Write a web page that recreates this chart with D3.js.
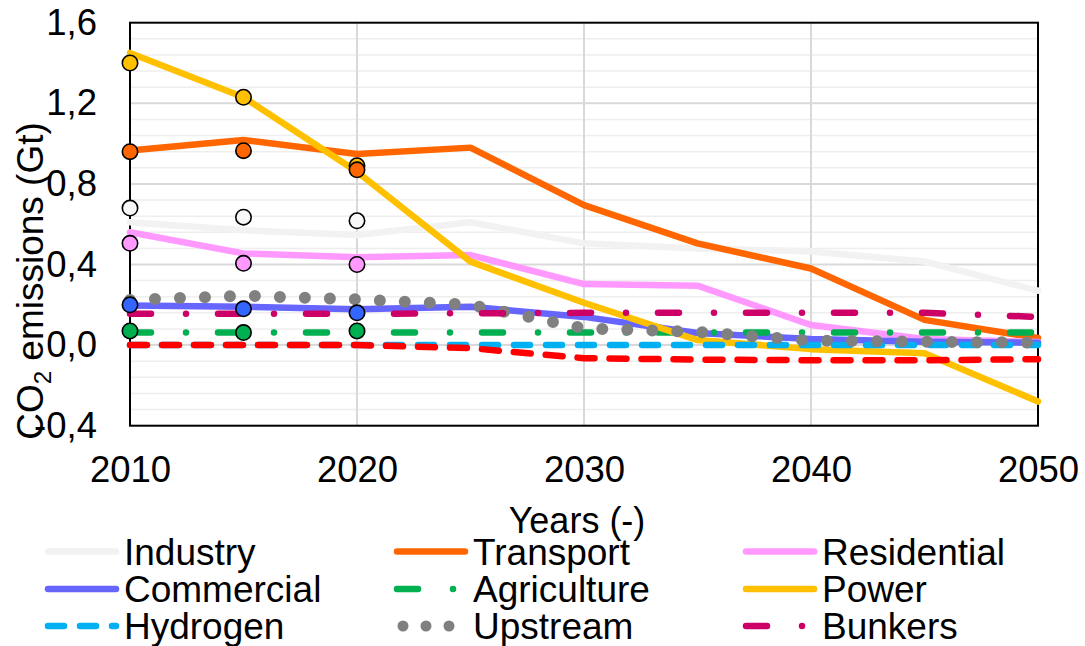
<!DOCTYPE html>
<html>
<head>
<meta charset="utf-8">
<script src="https://cdn.jsdelivr.net/npm/d3@7"></script>
<style>
  body { margin: 0; background: #fff; }
  svg { font-family: "Liberation Sans", Arial, sans-serif; }
</style>
</head>
<body>
<svg id="chart" width="1085" height="646"></svg>
<script>

var years = [2010, 2015, 2020, 2025, 2030, 2035, 2040, 2045, 2050];
var histYears = [2010, 2015, 2020];

// scenario lines (Gt)
var industry    = [0.61, 0.57, 0.546, 0.61, 0.505, 0.48, 0.465, 0.415, 0.27];
var transport   = [0.966, 1.018, 0.948, 0.98, 0.695, 0.505, 0.38, 0.125, 0.035];
var residential = [0.56, 0.455, 0.436, 0.447, 0.303, 0.295, 0.1, 0.03, 0.015];
var commercial  = [0.196, 0.19, 0.178, 0.19, 0.14, 0.06, 0.03, 0.017, 0.012];
var agriculture = [0.063, 0.063, 0.063, 0.063, 0.063, 0.063, 0.063, 0.063, 0.063];
var power       = [1.45, 1.23, 0.86, 0.414, 0.21, 0.025, -0.02, -0.04, -0.28];
var hydrogen    = [0, 0, 0, 0, 0, 0, 0, 0, 0];
var upstream    = [0.224, 0.245, 0.227, 0.2, 0.083, 0.065, 0.022, 0.017, 0.012];
var bunkers     = [0.155, 0.155, 0.155, 0.158, 0.16, 0.16, 0.16, 0.16, 0.14];
var other       = [0, 0, 0, -0.015, -0.065, -0.072, -0.075, -0.075, -0.07];

// historical points
var industryHist    = [0.68, 0.635, 0.617];
var transportHist   = [0.96, 0.965, 0.87];
var residentialHist = [0.505, 0.406, 0.40];
var commercialHist  = [0.2, 0.18, 0.16];
var agricultureHist = [0.07, 0.062, 0.07];
var powerHist       = [1.40, 1.23, 0.89];

var yTicks = [-0.4, 0, 0.4, 0.8, 1.2, 1.6];
var xTicks = [2010, 2020, 2030, 2040, 2050];

var series = [
    {name: "Industry",    values: industry,    color: "#f2f2f2", width: 6.5, dash: null,            legend: true},
    {name: "Transport",   values: transport,   color: "#ff6600", width: 6.5, dash: null,            legend: true},
    {name: "Residential", values: residential, color: "#ff99ff", width: 6.5, dash: null,            legend: true},
    {name: "Commercial",  values: commercial,  color: "#6666ff", width: 6.5, dash: null,            legend: true},
    {name: "Agriculture", values: agriculture, color: "#00b050", width: 6.5, dash: "21,35,0,32",    legend: true},
    {name: "Power",       values: power,       color: "#ffc000", width: 6.5, dash: null,            legend: true},
    {name: "Hydrogen",    values: hydrogen,    color: "#00b0f0", width: 6.5, dash: "16,16",         legend: true},
    {name: "Upstream",    values: upstream,    color: "#808080", width: 12, dash: "0,25",           legend: true},
    {name: "Bunkers",     values: bunkers,     color: "#cc0066", width: 6.5, dash: "21,35,0,32",    legend: true},
    {name: "Other",       values: other,       color: "#ff0000", width: 6.5, dash: "17,15",         legend: false}
];

var points = [
    {values: industryHist,    color: "#f8f8f8"},
    {values: residentialHist, color: "#ff99ff"},
    {values: commercialHist,  color: "#3366ff"},
    {values: agricultureHist, color: "#00b050"},
    {values: powerHist,       color: "#ffc000"},
    {values: transportHist,   color: "#ff6600"}
];

var svg = d3.select("#chart");

var x = d3.scaleLinear().domain([2010, 2050]).range([130, 1038]);
var y = d3.scaleLinear().domain([-0.4, 1.6]).range([425.7, 22.7]);

var fmt = function (d) {
    return (d < 0 ? "-" : "") + Math.abs(d).toFixed(1).replace(".", ",");
};

// minor gridlines
var minor = d3.range(-0.4, 1.6001, 0.08).filter(function (d) {
    return Math.abs(Math.round(d / 0.4) * 0.4 - d) > 0.001;
});
svg.append("g").selectAll("line")
    .data(minor)
    .enter()
    .append("line")
    .attr("x1", x(2010)).attr("x2", x(2050))
    .attr("y1", function (d) { return y(d); })
    .attr("y2", function (d) { return y(d); })
    .attr("stroke", "#eeeeee")
    .attr("stroke-width", 1.5);

// major gridlines
svg.append("g").selectAll("line")
    .data(yTicks.slice(1, 5))
    .enter()
    .append("line")
    .attr("x1", x(2010)).attr("x2", x(2050))
    .attr("y1", function (d) { return y(d); })
    .attr("y2", function (d) { return y(d); })
    .attr("stroke", "#d9d9d9")
    .attr("stroke-width", 2);

svg.append("g").selectAll("line")
    .data([2020, 2030, 2040])
    .enter()
    .append("line")
    .attr("y1", y(1.6)).attr("y2", y(-0.4))
    .attr("x1", function (d) { return x(d); })
    .attr("x2", function (d) { return x(d); })
    .attr("stroke", "#d9d9d9")
    .attr("stroke-width", 2);

// frame
svg.append("rect")
    .attr("x", x(2010)).attr("y", y(1.6))
    .attr("width", x(2050) - x(2010))
    .attr("height", y(-0.4) - y(1.6))
    .attr("fill", "none")
    .attr("stroke", "#000")
    .attr("stroke-width", 2);

// axes
var yAxis = d3.axisLeft(y).tickValues(yTicks).tickFormat(fmt).tickSize(0).tickPadding(33);
var yg = svg.append("g").attr("transform", "translate(" + x(2010) + ",0)").call(yAxis);
var xAxis = d3.axisBottom(x).tickValues(xTicks).tickFormat(d3.format("d")).tickSize(0).tickPadding(30);
var xg = svg.append("g").attr("transform", "translate(0," + y(-0.4) + ")").call(xAxis);
[yg, xg].forEach(function (g) {
    g.select(".domain").remove();
    g.selectAll("text")
        .attr("fill", "#000")
        .style("font-size", "36.5px")
        .style("font-family", "'Liberation Sans', Arial, sans-serif");
});

// lines
var line = d3.line()
    .x(function (d, i) { return x(years[i]); })
    .y(function (d) { return y(d); });

svg.append("g").selectAll("path")
    .data(series)
    .enter()
    .append("path")
    .attr("d", function (s) { return line(s.values); })
    .attr("fill", "none")
    .attr("stroke", function (s) { return s.color; })
    .attr("stroke-width", function (s) { return s.width; })
    .attr("stroke-dasharray", function (s) { return s.dash; })
    .attr("stroke-linecap", "round")
    .attr("stroke-linejoin", "round");

// historical markers
points.forEach(function (p) {
    svg.append("g").selectAll("circle")
        .data(p.values)
        .enter()
        .append("circle")
        .attr("cx", function (d, i) { return x(histYears[i]); })
        .attr("cy", function (d) { return y(d); })
        .attr("r", 7.7)
        .attr("fill", p.color)
        .attr("stroke", "#000")
        .attr("stroke-width", 1.6);
});

// axis titles
var ytitle = svg.append("text")
    .attr("transform", "translate(43,281) rotate(-90)")
    .attr("text-anchor", "middle")
    .style("font-size", "37px");
ytitle.append("tspan").text("CO");
ytitle.append("tspan").attr("dy", 8).style("font-size", "24px").text("2");
ytitle.append("tspan").attr("dy", -8).text(" emissions (Gt)");

svg.append("text")
    .attr("x", 577).attr("y", 533)
    .attr("text-anchor", "middle")
    .style("font-size", "36px")
    .text("Years (-)");

// legend
var legendCols = [45, 394, 743];
var legendRows = [551.5, 589, 626];
var legendItems = series.filter(function (s) { return s.legend; });

var leg = svg.append("g").selectAll("g")
    .data(legendItems)
    .enter()
    .append("g")
    .attr("transform", function (d, i) {
        return "translate(" + legendCols[i % 3] + "," + legendRows[Math.floor(i / 3)] + ")";
    });

leg.append("line")
    .attr("x1", function (s) { return s.name === "Upstream" ? 9 : 3; })
    .attr("x2", 71)
    .attr("stroke", function (s) { return s.color; })
    .attr("stroke-width", function (s) { return s.name === "Upstream" ? 11 : s.width; })
    .attr("stroke-dasharray", function (s) { return s.name === "Upstream" ? "0,23" : s.dash; })
    .attr("stroke-linecap", "round");

leg.append("text")
    .attr("x", 79)
    .attr("y", 13)
    .style("font-size", "37px")
    .text(function (s) { return s.name; });

</script>
</body>
</html>
